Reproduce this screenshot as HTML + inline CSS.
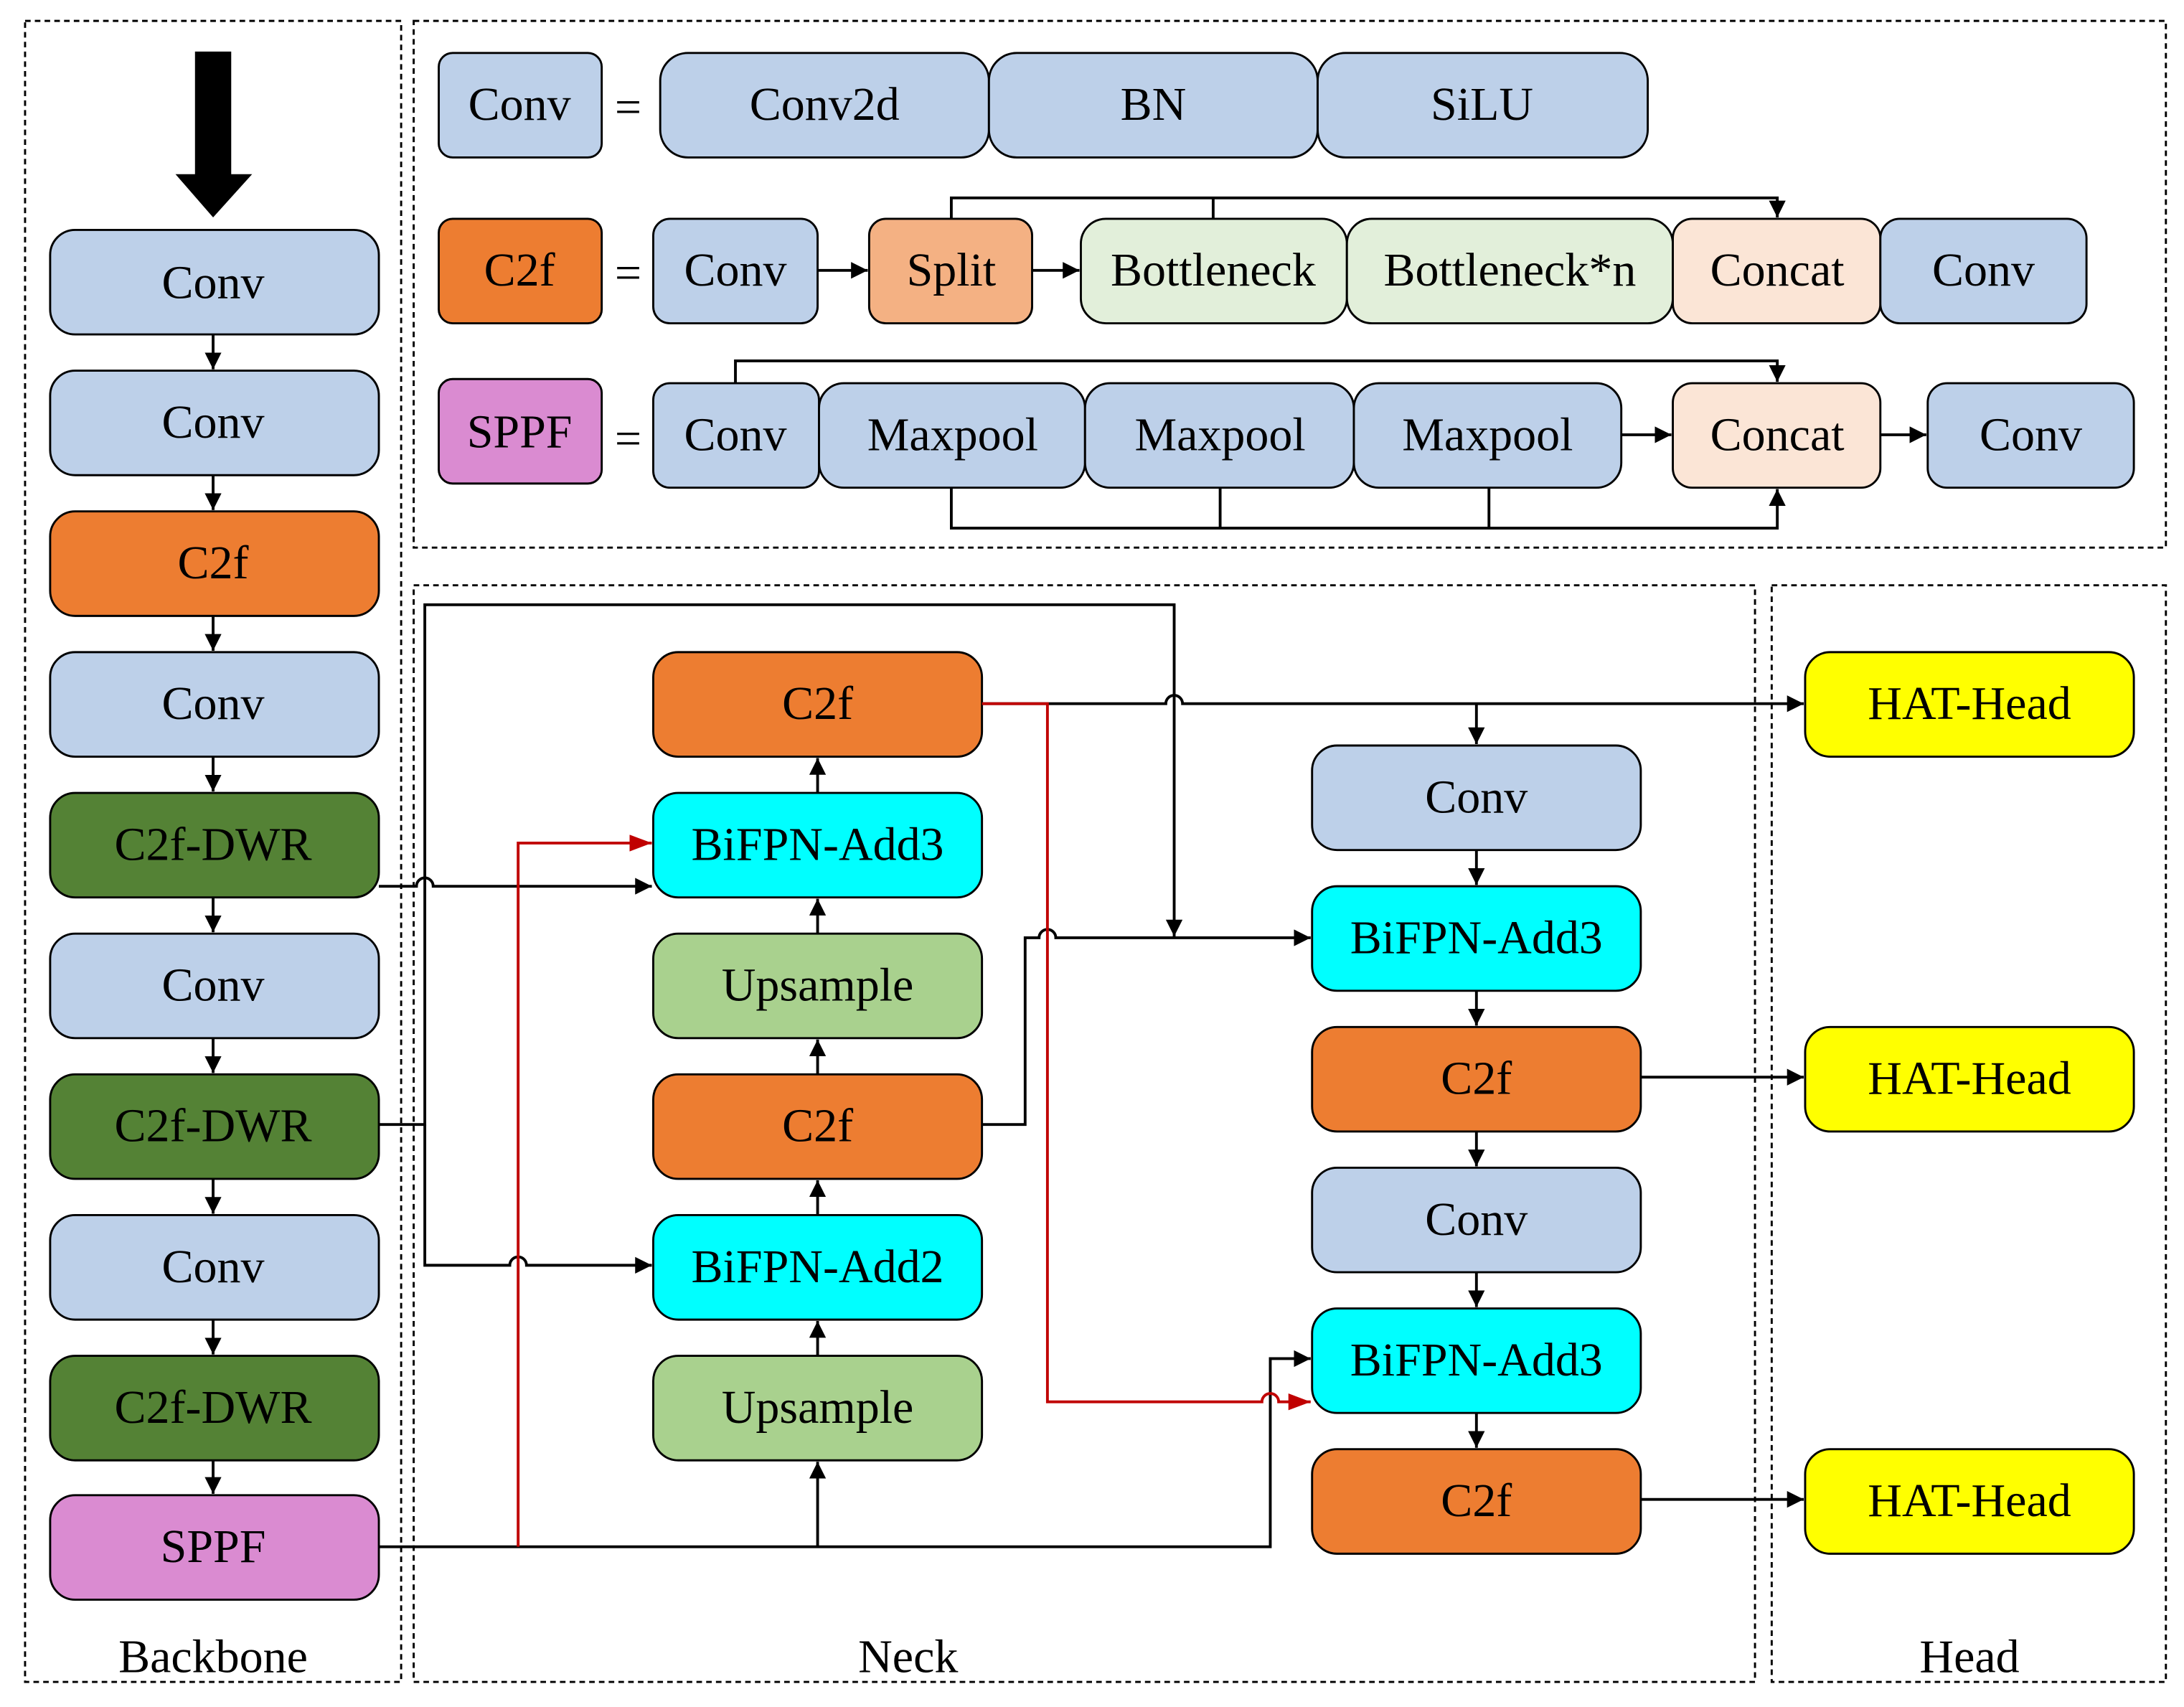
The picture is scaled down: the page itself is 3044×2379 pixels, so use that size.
<!DOCTYPE html>
<html><head><meta charset="utf-8"><style>
html,body{margin:0;padding:0;background:#fff;}
svg{display:block;}
text{font-family:"Liberation Serif",serif;font-size:34px;fill:#000;text-anchor:middle;dominant-baseline:central;}
</style></head><body>
<svg width="3044" height="2379" viewBox="0 0 1568 1225" preserveAspectRatio="none" xmlns="http://www.w3.org/2000/svg">
<defs>
<marker id="a" markerUnits="userSpaceOnUse" markerWidth="14" markerHeight="14" refX="12" refY="6" orient="auto"><path d="M0,0 L12,6 L0,12 z" fill="#000"/></marker>
<marker id="r" markerUnits="userSpaceOnUse" markerWidth="18" markerHeight="14" refX="16" refY="6" orient="auto"><path d="M0,0 L16,6 L0,12 z" fill="#c00000"/></marker>
</defs>
<rect width="1568" height="1225" fill="#fff"/>
<g fill="none" stroke="#000" stroke-width="1.5" stroke-dasharray="4,3">
<rect x="18" y="15" width="270" height="1192"/>
<rect x="297" y="15" width="1258" height="378"/>
<rect x="297" y="420" width="963" height="787"/>
<rect x="1272" y="420" width="283" height="787"/>
</g>
<rect x="140" y="37" width="26" height="90" fill="#000"/>
<path d="M126,125 L181,125 L153,156 z" fill="#000"/>
<g stroke="#000" stroke-width="1.5">
<rect x="36" y="165" width="236" height="75" rx="18" fill="#bdd0e9"/>
<rect x="36" y="266" width="236" height="75" rx="18" fill="#bdd0e9"/>
<rect x="36" y="367" width="236" height="75" rx="18" fill="#ed7d31"/>
<rect x="36" y="468" width="236" height="75" rx="18" fill="#bdd0e9"/>
<rect x="36" y="569" width="236" height="75" rx="18" fill="#548235"/>
<rect x="36" y="670" width="236" height="75" rx="18" fill="#bdd0e9"/>
<rect x="36" y="771" width="236" height="75" rx="18" fill="#548235"/>
<rect x="36" y="872" width="236" height="75" rx="18" fill="#bdd0e9"/>
<rect x="36" y="973" width="236" height="75" rx="18" fill="#548235"/>
<rect x="36" y="1073" width="236" height="75" rx="18" fill="#da8bd1"/>
<rect x="315" y="38" width="117" height="75" rx="10" fill="#bdd0e9"/>
<rect x="474" y="38" width="236" height="75" rx="20" fill="#bdd0e9"/>
<rect x="710" y="38" width="236" height="75" rx="20" fill="#bdd0e9"/>
<rect x="946" y="38" width="237" height="75" rx="20" fill="#bdd0e9"/>
<rect x="315" y="157" width="117" height="75" rx="10" fill="#ed7d31"/>
<rect x="469" y="157" width="118" height="75" rx="12" fill="#bdd0e9"/>
<rect x="624" y="157" width="117" height="75" rx="12" fill="#f4b183"/>
<rect x="776" y="157" width="191" height="75" rx="18" fill="#e2efda"/>
<rect x="967" y="157" width="234" height="75" rx="18" fill="#e2efda"/>
<rect x="1201" y="157" width="149" height="75" rx="14" fill="#fbe5d6"/>
<rect x="1350" y="157" width="148" height="75" rx="14" fill="#bdd0e9"/>
<rect x="315" y="272" width="117" height="75" rx="10" fill="#da8bd1"/>
<rect x="469" y="275" width="119" height="75" rx="12" fill="#bdd0e9"/>
<rect x="588" y="275" width="191" height="75" rx="18" fill="#bdd0e9"/>
<rect x="779" y="275" width="193" height="75" rx="18" fill="#bdd0e9"/>
<rect x="972" y="275" width="192" height="75" rx="18" fill="#bdd0e9"/>
<rect x="1201" y="275" width="149" height="75" rx="14" fill="#fbe5d6"/>
<rect x="1384" y="275" width="148" height="75" rx="14" fill="#bdd0e9"/>
<rect x="469" y="468" width="236" height="75" rx="18" fill="#ed7d31"/>
<rect x="469" y="569" width="236" height="75" rx="18" fill="#00ffff"/>
<rect x="469" y="670" width="236" height="75" rx="18" fill="#a9d18e"/>
<rect x="469" y="771" width="236" height="75" rx="18" fill="#ed7d31"/>
<rect x="469" y="872" width="236" height="75" rx="18" fill="#00ffff"/>
<rect x="469" y="973" width="236" height="75" rx="18" fill="#a9d18e"/>
<rect x="942" y="535" width="236" height="75" rx="18" fill="#bdd0e9"/>
<rect x="942" y="636" width="236" height="75" rx="18" fill="#00ffff"/>
<rect x="942" y="737" width="236" height="75" rx="18" fill="#ed7d31"/>
<rect x="942" y="838" width="236" height="75" rx="18" fill="#bdd0e9"/>
<rect x="942" y="939" width="236" height="75" rx="18" fill="#00ffff"/>
<rect x="942" y="1040" width="236" height="75" rx="18" fill="#ed7d31"/>
<rect x="1296" y="468" width="236" height="75" rx="18" fill="#ffff00"/>
<rect x="1296" y="737" width="236" height="75" rx="18" fill="#ffff00"/>
<rect x="1296" y="1040" width="236" height="75" rx="18" fill="#ffff00"/>
</g>
<g fill="none" stroke="#000" stroke-width="2">
<path d="M153,240 V265" marker-end="url(#a)"/>
<path d="M153,341 V366" marker-end="url(#a)"/>
<path d="M153,442 V467" marker-end="url(#a)"/>
<path d="M153,543 V568" marker-end="url(#a)"/>
<path d="M153,644 V669" marker-end="url(#a)"/>
<path d="M153,745 V770" marker-end="url(#a)"/>
<path d="M153,846 V871" marker-end="url(#a)"/>
<path d="M153,947 V972" marker-end="url(#a)"/>
<path d="M153,1048 V1072" marker-end="url(#a)"/>
<path d="M587,194 H623" marker-end="url(#a)"/>
<path d="M741,194 H775" marker-end="url(#a)"/>
<path d="M683,157 V142 H1276 V156" marker-end="url(#a)"/>
<path d="M871,157 V142"/>
<path d="M528,275 V259 H1276 V274" marker-end="url(#a)"/>
<path d="M1164,312 H1200" marker-end="url(#a)"/>
<path d="M1350,312 H1383" marker-end="url(#a)"/>
<path d="M683,350 V379 H1276 V351" marker-end="url(#a)"/>
<path d="M876,350 V379 M1069,350 V379"/>
<path d="M587,569 V544" marker-end="url(#a)"/>
<path d="M587,670 V645" marker-end="url(#a)"/>
<path d="M587,771 V746" marker-end="url(#a)"/>
<path d="M587,872 V847" marker-end="url(#a)"/>
<path d="M587,973 V948" marker-end="url(#a)"/>
<path d="M587,1110 V1049" marker-end="url(#a)"/>
<path d="M1060,610 V635" marker-end="url(#a)"/>
<path d="M1060,711 V736" marker-end="url(#a)"/>
<path d="M1060,812 V837" marker-end="url(#a)"/>
<path d="M1060,913 V938" marker-end="url(#a)"/>
<path d="M1060,1014 V1039" marker-end="url(#a)"/>
<path d="M272,636 H299 A6,6 0 0 1 311,636 H468" marker-end="url(#a)"/>
<path d="M272,807 H305 V434 H843 V672" marker-end="url(#a)"/>
<path d="M305,807 V908 H366 A6,6 0 0 1 378,908 H468" marker-end="url(#a)"/>
<path d="M272,1110 H912 V975 H941" marker-end="url(#a)"/>
<path d="M705,505 H837 A6,6 0 0 1 849,505 H1295" marker-end="url(#a)"/>
<path d="M1060,505 V534" marker-end="url(#a)"/>
<path d="M705,807 H736 V673 H746 A6,6 0 0 1 758,673 H941" marker-end="url(#a)"/>
<path d="M1178,773 H1295" marker-end="url(#a)"/>
<path d="M1178,1076 H1295" marker-end="url(#a)"/>
</g>
<g fill="none" stroke="#c00000" stroke-width="2">
<path d="M372,1110 V605 H468" marker-end="url(#r)"/>
<path d="M705,505 H752 V1006 H906 A6,6 0 0 1 918,1006 H941" marker-end="url(#r)"/>
</g>
<text x="153" y="203">Conv</text>
<text x="153" y="303">Conv</text>
<text x="153" y="404">C2f</text>
<text x="153" y="505">Conv</text>
<text x="153" y="606">C2f-DWR</text>
<text x="153" y="707">Conv</text>
<text x="153" y="808">C2f-DWR</text>
<text x="153" y="909">Conv</text>
<text x="153" y="1010">C2f-DWR</text>
<text x="153" y="1110">SPPF</text>
<text x="373" y="75">Conv</text>
<text x="451" y="77">=</text>
<text x="592" y="75">Conv2d</text>
<text x="828" y="75">BN</text>
<text x="1064" y="75">SiLU</text>
<text x="373" y="194">C2f</text>
<text x="451" y="196">=</text>
<text x="528" y="194">Conv</text>
<text x="683" y="194">Split</text>
<text x="871" y="194">Bottleneck</text>
<text x="1084" y="194">Bottleneck*n</text>
<text x="1276" y="194">Concat</text>
<text x="1424" y="194">Conv</text>
<text x="373" y="310">SPPF</text>
<text x="451" y="315">=</text>
<text x="528" y="312">Conv</text>
<text x="684" y="312">Maxpool</text>
<text x="876" y="312">Maxpool</text>
<text x="1068" y="312">Maxpool</text>
<text x="1276" y="312">Concat</text>
<text x="1458" y="312">Conv</text>
<text x="587" y="505">C2f</text>
<text x="587" y="606">BiFPN-Add3</text>
<text x="587" y="707">Upsample</text>
<text x="587" y="808">C2f</text>
<text x="587" y="909">BiFPN-Add2</text>
<text x="587" y="1010">Upsample</text>
<text x="1060" y="572">Conv</text>
<text x="1060" y="673">BiFPN-Add3</text>
<text x="1060" y="774">C2f</text>
<text x="1060" y="875">Conv</text>
<text x="1060" y="976">BiFPN-Add3</text>
<text x="1060" y="1077">C2f</text>
<text x="1414" y="505">HAT-Head</text>
<text x="1414" y="774">HAT-Head</text>
<text x="1414" y="1077">HAT-Head</text>
<text x="153" y="1189">Backbone</text>
<text x="652" y="1189">Neck</text>
<text x="1414" y="1189">Head</text>
</svg>
</body></html>
